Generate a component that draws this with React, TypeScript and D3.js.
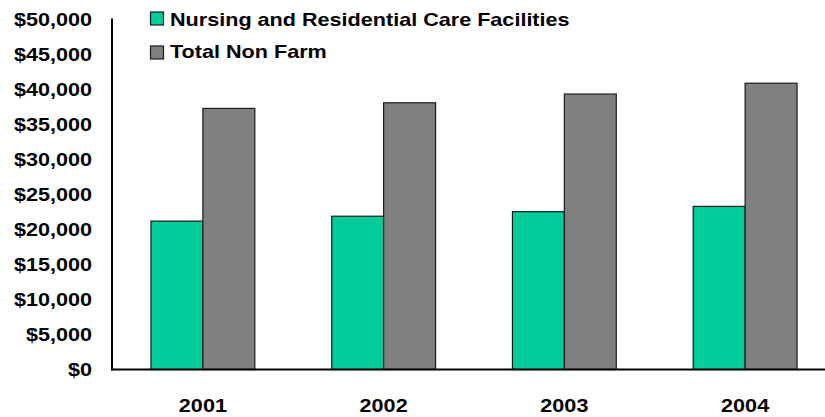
import React from 'react';
import * as d3 from 'd3';

const years = ['2001', '2002', '2003', '2004'];
const nursing = [21200, 21900, 22550, 23300];
const totalNonFarm = [37300, 38100, 39350, 40900];
const seriesNames = ['Nursing and Residential Care Facilities', 'Total Non Farm'];
const seriesColors = ['#00CC99', '#808080'];
const yTicks = [0, 5000, 10000, 15000, 20000, 25000, 30000, 35000, 40000, 45000, 50000];

const W = 825;
const H = 417;
const axisX = 112;
const baseY = 369.5;
const topY = 19.5;
const SX = 1.2;
const font = '"Liberation Sans", Arial, sans-serif';

export default function App() {
  const y = d3.scaleLinear().domain([0, 50000]).range([baseY, topY]);
  const x = d3.scaleBand<string>().domain(years).range([axisX, axisX + 724]).paddingInner(0.4254).paddingOuter(0.2155);
  const xs = d3.scaleBand<number>().domain([0, 1]).range([0, x.bandwidth()]);
  const fmt = (v: number) => '$' + d3.format(',')(v);
  const series = [nursing, totalNonFarm];

  return (
    <svg width={W} height={H} style={{ position: 'fixed', left: 0, top: 0, background: '#fff' }} fontFamily={font} fontWeight="bold">
      <rect x={0} y={0} width={W} height={H} fill="#fff" />
      {years.map((yr, i) =>
        series.map((s, k) => (
          <rect
            key={yr + k}
            x={(x(yr) as number) + (xs(k) as number)}
            y={y(s[i])}
            width={xs.bandwidth()}
            height={baseY - y(s[i])}
            fill={seriesColors[k]}
            stroke="#1a1a1a"
            strokeWidth={1.2}
          />
        ))
      )}
      <line x1={axisX} x2={axisX} y1={topY - 1} y2={baseY + 1} stroke="#000" strokeWidth={2} />
      <line x1={axisX - 1} x2={W} y1={baseY} y2={baseY} stroke="#000" strokeWidth={2} />
      {yTicks.map((t) => (
        <text key={t} transform={`translate(92,${y(t) + 6.5}) scale(${SX},1)`} textAnchor="end" fontSize={18} fill="#000">
          {fmt(t)}
        </text>
      ))}
      {years.map((yr) => (
        <text key={yr} transform={`translate(${(x(yr) as number) + x.bandwidth() / 2},411.5) scale(${SX},1)`} textAnchor="middle" fontSize={18} fill="#000">
          {yr}
        </text>
      ))}
      {seriesNames.map((n, k) => (
        <g key={n}>
          <rect x={150.5} y={12 + k * 34} width={13} height={13} fill={seriesColors[k]} stroke="#1a1a1a" strokeWidth={1.2} />
          <text transform={`translate(170,${25.8 + k * 32.5}) scale(${SX},1)`} fontSize={18} fill="#000">
            {n}
          </text>
        </g>
      ))}
    </svg>
  );
}
